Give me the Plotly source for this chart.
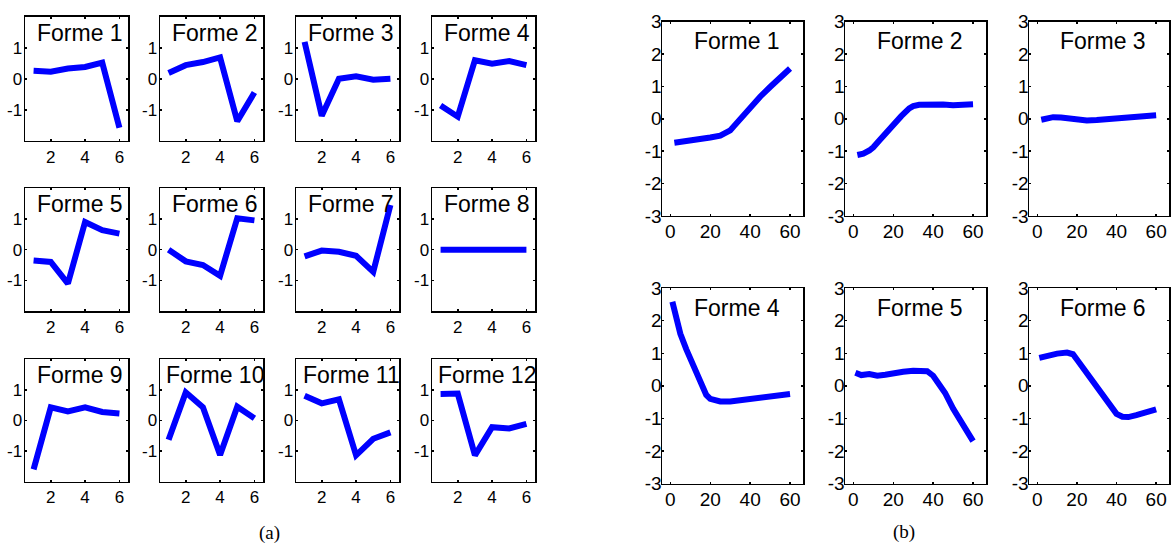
import plotly.graph_objects as go

# ---------------- Data: panel (a) ----------------
X_A = [1, 2, 3, 4, 5, 6]
FORME_A_1 = [0.26, 0.23, 0.33, 0.38, 0.52, -1.58]
FORME_A_2 = [0.19, 0.44, 0.54, 0.69, -1.37, -0.44]
FORME_A_3 = [1.19, -1.19, 0.0, 0.08, -0.03, 0.0]
FORME_A_4 = [-0.86, -1.22, 0.60, 0.49, 0.57, 0.44]
FORME_A_5 = [-0.35, -0.40, -1.10, 0.90, 0.63, 0.52]
FORME_A_6 = [0.0, -0.38, -0.50, -0.85, 1.02, 0.95]
FORME_A_7 = [-0.22, -0.03, -0.07, -0.20, -0.72, 1.45]
FORME_A_8 = [0.0, 0.0, 0.03, 0.0, 0.0, 0.0]
FORME_A_9 = [-1.60, 0.43, 0.30, 0.43, 0.28, 0.23]
FORME_A_10 = [-0.63, 0.92, 0.43, -1.13, 0.45, 0.07]
FORME_A_11 = [0.81, 0.56, 0.69, -1.14, -0.60, -0.39]
FORME_A_12 = [0.87, 0.88, -1.14, -0.22, -0.26, -0.11]
SERIES_A = [FORME_A_1, FORME_A_2, FORME_A_3, FORME_A_4, FORME_A_5, FORME_A_6,
            FORME_A_7, FORME_A_8, FORME_A_9, FORME_A_10, FORME_A_11, FORME_A_12]
TITLES_A = ["Forme %d" % k for k in range(1, 13)]

# ---------------- Data: panel (b) ----------------
X_B_1 = [2, 5, 10, 15, 20, 25, 28, 30, 32, 35, 40, 45, 50, 55, 60]
Y_B_1 = [-0.74, -0.72, -0.67, -0.63, -0.58, -0.52, -0.45, -0.36, -0.22, 0.0, 0.35, 0.68, 0.98, 1.25, 1.55]
X_B_2 = [2, 5, 8, 10, 13, 16, 20, 24, 28, 30, 33, 36, 40, 45, 50, 55, 60]
Y_B_2 = [-1.12, -1.08, -0.98, -0.88, -0.67, -0.45, -0.20, 0.08, 0.32, 0.39, 0.43, 0.44, 0.45, 0.44, 0.42, 0.42, 0.45]
X_B_3 = [2, 5, 8, 12, 16, 20, 25, 30, 35, 40, 45, 50, 55, 60]
Y_B_3 = [-0.03, 0.0, 0.05, 0.04, 0.0, -0.04, -0.05, -0.04, -0.01, 0.0, 0.02, 0.05, 0.08, 0.11]
X_B_4 = [1, 3, 5, 8, 10, 12, 15, 18, 20, 25, 30, 35, 40, 45, 50, 55, 60]
Y_B_4 = [2.58, 2.0, 1.6, 1.12, 0.85, 0.55, 0.10, -0.28, -0.40, -0.48, -0.48, -0.44, -0.41, -0.37, -0.33, -0.29, -0.25]
X_B_5 = [1, 4, 8, 12, 16, 20, 25, 30, 35, 37, 40, 43, 46, 50, 53, 56, 60]
Y_B_5 = [0.40, 0.33, 0.36, 0.31, 0.34, 0.39, 0.43, 0.46, 0.48, 0.45, 0.31, 0.08, -0.22, -0.70, -1.00, -1.35, -1.70]
X_B_6 = [1, 5, 10, 15, 18, 20, 25, 30, 35, 40, 43, 46, 50, 55, 60]
Y_B_6 = [0.86, 0.92, 0.99, 1.02, 0.97, 0.81, 0.40, -0.04, -0.49, -0.86, -0.95, -0.96, -0.90, -0.80, -0.72]
SERIES_B = [(X_B_1, Y_B_1), (X_B_2, Y_B_2), (X_B_3, Y_B_3),
            (X_B_4, Y_B_4), (X_B_5, Y_B_5), (X_B_6, Y_B_6)]
TITLES_B = ["Forme %d" % k for k in range(1, 7)]

XTICKS_A = [2, 4, 6]
YTICKS_A = [-1, 0, 1]
XTICKS_B = [0, 20, 40, 60]
YTICKS_B = [-3, -2, -1, 0, 1, 2, 3]
CAPTIONS = ["(a)", "(b)"]

# ---------------- Layout geometry (pixels) ----------------
W, H = 1175, 559
COLS_A = [(25, 128), (160, 263), (296, 399), (432, 535)]
ROWS_A = [(7, 136), (185, 313), (363, 490)]
COLS_B = [(662, 803), (845, 986), (1029, 1169)]
ROWS_B = [(12, 214), (289, 492)]

BLUE = "#0000FF"
FONT = "Liberation Sans, Arial, sans-serif"

fig = go.Figure()
layout = dict(
    width=W, height=H, autosize=False,
    margin=dict(l=0, r=0, t=0, b=0),
    paper_bgcolor="white", plot_bgcolor="white",
    showlegend=False,
    font=dict(family=FONT, color="black"),
)
annotations = []


def axis_style(px0, px1, total, rng, tickvals, size, anchor, is_y, standoff):
    d = [px0 / total, px1 / total] if not is_y else [1 - px1 / total, 1 - px0 / total]
    return dict(
        domain=d, range=rng, anchor=anchor,
        showline=True, linecolor="black", linewidth=1.5, mirror="allticks",
        ticks="inside", ticklen=2, tickwidth=1.5, tickcolor="black",
        tickvals=tickvals, ticktext=[str(v) for v in tickvals],
        tickfont=dict(family=FONT, size=size, color="black"),
        ticklabelstandoff=standoff,
        showgrid=False, zeroline=False, fixedrange=True,
    )


idx = 0
# panel (a)
for r, (y0, y1) in enumerate(ROWS_A):
    for c, (x0, x1) in enumerate(COLS_A):
        k = r * 4 + c
        idx += 1
        sx = "" if idx == 1 else str(idx)
        layout["xaxis" + sx] = axis_style(x0, x1, W, [0.5, 6.5], XTICKS_A, 17, "y" + sx, False, 0)
        layout["yaxis" + sx] = axis_style(y0, y1, H, [-2, 2], YTICKS_A, 17, "x" + sx, True, -2)
        fig.add_trace(go.Scatter(x=X_A, y=SERIES_A[k], mode="lines",
                                 line=dict(color=BLUE, width=6),
                                 xaxis="x" + sx, yaxis="y" + sx, hoverinfo="skip"))
        annotations.append(dict(text=TITLES_A[k], x=0.535, y=0.87,
                                xref="x" + sx + " domain", yref="y" + sx + " domain",
                                xanchor="center", yanchor="middle", showarrow=False,
                                font=dict(family=FONT, size=23, color="black")))

# panel (b)
for r, (y0, y1) in enumerate(ROWS_B):
    for c, (x0, x1) in enumerate(COLS_B):
        k = r * 3 + c
        idx += 1
        sx = str(idx)
        layout["xaxis" + sx] = axis_style(x0, x1, W, [-4.2, 66.5], XTICKS_B, 19, "y" + sx, False, -2)
        layout["yaxis" + sx] = axis_style(y0, y1, H, [-3, 3], YTICKS_B, 19, "x" + sx, True, -5)
        xs, ys = SERIES_B[k]
        fig.add_trace(go.Scatter(x=xs, y=ys, mode="lines",
                                 line=dict(color=BLUE, width=6),
                                 xaxis="x" + sx, yaxis="y" + sx, hoverinfo="skip"))
        annotations.append(dict(text=TITLES_B[k], x=0.53, y=0.9,
                                xref="x" + sx + " domain", yref="y" + sx + " domain",
                                xanchor="center", yanchor="middle", showarrow=False,
                                font=dict(family=FONT, size=23, color="black")))

# captions
annotations.append(dict(text=CAPTIONS[0], x=269 / W, y=1 - 543 / H, xref="paper", yref="paper",
                        xanchor="center", yanchor="middle", showarrow=False,
                        font=dict(family="Liberation Serif, serif", size=19, color="black")))
annotations.append(dict(text=CAPTIONS[1], x=904 / W, y=1 - 542 / H, xref="paper", yref="paper",
                        xanchor="center", yanchor="middle", showarrow=False,
                        font=dict(family="Liberation Serif, serif", size=19, color="black")))

layout["annotations"] = annotations
fig.update_layout(**layout)

fig.write_html("out.html", config={"displayModeBar": False, "staticPlot": True},
               post_script="document.body.style.margin='0';document.body.style.overflow='hidden';")
